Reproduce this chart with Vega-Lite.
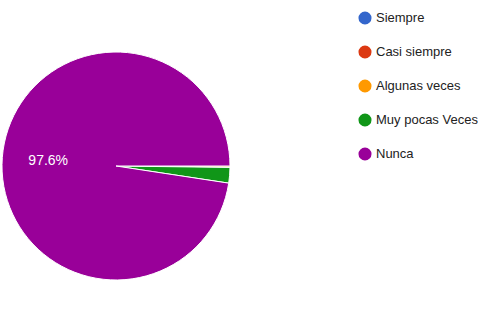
{
  "$schema": "https://vega.github.io/schema/vega-lite/v6.json",
  "width": 230,
  "height": 322,
  "padding": {"left": 0, "top": 5, "right": 0, "bottom": 0},
  "background": "white",
  "config": {"view": {"stroke": null}, "font": "Liberation Sans"},
  "data": {
    "values": [
      {"respuesta": "Siempre", "n": 0, "orden": 1, "label": ""},
      {"respuesta": "Casi siempre", "n": 0, "orden": 2, "label": ""},
      {"respuesta": "Algunas veces", "n": 1, "orden": 3, "label": ""},
      {"respuesta": "Muy pocas Veces", "n": 11, "orden": 4, "label": ""},
      {"respuesta": "Nunca", "n": 488, "orden": 5, "label": "97.6%"}
    ]
  },
  "encoding": {
    "theta": {"field": "n", "type": "quantitative", "stack": true, "scale": {"range": [1.5708, 7.854]}},
    "order": {"field": "orden", "type": "quantitative"}
  },
  "layer": [
    {
      "mark": {"type": "arc", "outerRadius": 114, "stroke": "white", "strokeWidth": 1},
      "encoding": {
        "color": {
          "field": "respuesta",
          "type": "nominal",
          "scale": {
            "domain": ["Siempre", "Casi siempre", "Algunas veces", "Muy pocas Veces", "Nunca"],
            "range": ["#3366CC", "#DC3912", "#FF9900", "#109618", "#990099"]
          },
          "legend": {
            "title": null,
            "orient": "none",
            "legendX": 357,
            "legendY": 6,
            "symbolType": "circle",
            "symbolSize": 170,
            "symbolStrokeWidth": 0,
            "labelFontSize": 13,
            "labelColor": "#222222",
            "labelFont": "Liberation Sans",
            "labelOffset": 4,
            "rowPadding": 20
          }
        }
      }
    },
    {
      "mark": {"type": "text", "radius": 68, "fontSize": 14, "color": "white"},
      "encoding": {"text": {"field": "label"}}
    }
  ]
}
